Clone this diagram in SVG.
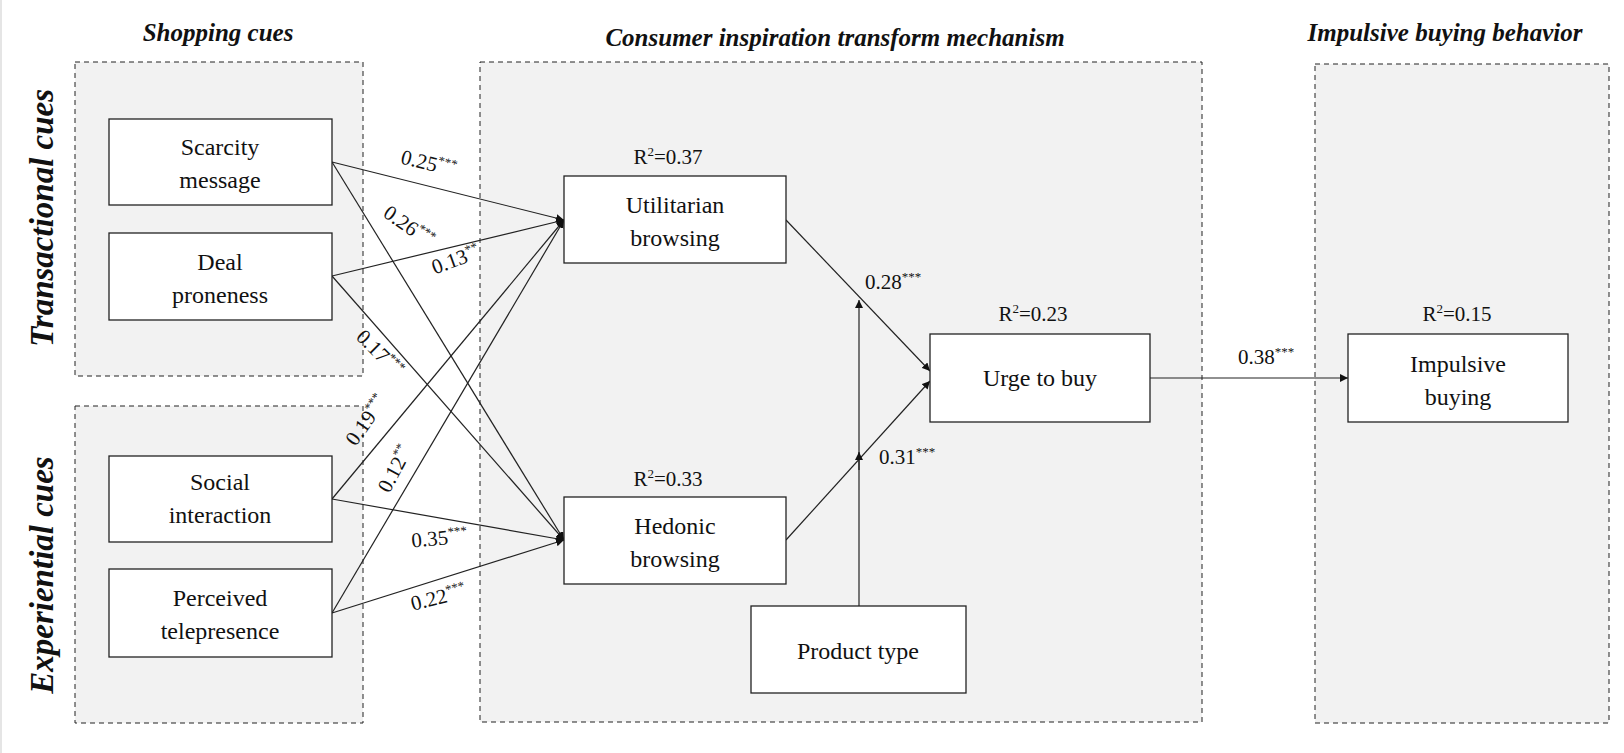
<svg xmlns="http://www.w3.org/2000/svg" width="1624" height="753" viewBox="0 0 1624 753" font-family="'Liberation Serif','Times New Roman','DejaVu Serif',serif">
<style>
.grp{fill:#f2f2f2;stroke:#222;stroke-width:1;stroke-dasharray:5,4}
.nd{fill:#fff;stroke:#222;stroke-width:1.3}
text{font-family:'Liberation Serif','Times New Roman','DejaVu Serif',serif;fill:#111}
.t{font-size:24px;text-anchor:middle}
.h{font-size:25px;font-weight:bold;font-style:italic;text-anchor:middle}
.v{font-size:33px;font-weight:bold;font-style:italic;text-anchor:middle}
.c{font-size:21px;text-anchor:middle}
.e line{stroke:#222;stroke-width:1.2;marker-end:url(#a)}
</style>
<defs><marker id="a" viewBox="0 0 10 10" refX="10" refY="5" markerWidth="8" markerHeight="8" markerUnits="userSpaceOnUse" orient="auto"><path d="M0,0L10,5L0,10z" fill="#111"/></marker></defs>
<rect width="1624" height="753" fill="#fff"/>
<rect x="0.5" y="0" width="1" height="753" fill="#ccc"/>
<rect class="grp" x="75" y="62" width="288" height="314"/>
<rect class="grp" x="75" y="406" width="288" height="317"/>
<rect class="grp" x="480" y="62" width="722" height="660"/>
<rect class="grp" x="1315" y="64" width="294" height="659"/>
<text class="h" x="218" y="41">Shopping cues</text>
<text class="h" x="835" y="46">Consumer inspiration transform mechanism</text>
<text class="h" x="1445" y="41">Impulsive buying behavior</text>
<text class="v" transform="translate(53,218) rotate(-90)">Transactional cues</text>
<text class="v" transform="translate(53,575) rotate(-90)">Experiential cues</text>
<g class="e" id="connectors">
<line x1="332" y1="162" x2="564" y2="220"/>
<line x1="332" y1="276" x2="564" y2="220"/>
<line x1="332" y1="499" x2="564" y2="220"/>
<line x1="332" y1="613" x2="564" y2="220"/>
<line x1="332" y1="162" x2="564" y2="540"/>
<line x1="332" y1="276" x2="564" y2="540"/>
<line x1="332" y1="499" x2="564" y2="540"/>
<line x1="332" y1="613" x2="564" y2="540"/>
<line x1="786" y1="220" x2="930" y2="371"/>
<line x1="786" y1="540" x2="930" y2="381"/>
<line x1="859" y1="606" x2="859" y2="300"/>
<line x1="859" y1="470" x2="859" y2="452"/>
<line x1="1150" y1="378" x2="1348" y2="378"/>
</g>
<g id="n1"><rect class="nd" x="109" y="119" width="223" height="86"/><text class="t" x="220" y="155">Scarcity</text><text class="t" x="220" y="188">message</text></g>
<g id="n2"><rect class="nd" x="109" y="233" width="223" height="87"/><text class="t" x="220" y="270">Deal</text><text class="t" x="220" y="303">proneness</text></g>
<g id="n3"><rect class="nd" x="109" y="456" width="223" height="86"/><text class="t" x="220" y="490">Social</text><text class="t" x="220" y="523">interaction</text></g>
<g id="n4"><rect class="nd" x="109" y="569" width="223" height="88"/><text class="t" x="220" y="606">Perceived</text><text class="t" x="220" y="639">telepresence</text></g>
<g id="n5"><rect class="nd" x="564" y="176" width="222" height="87"/><text class="t" x="675" y="213">Utilitarian</text><text class="t" x="675" y="246">browsing</text></g>
<g id="n6"><rect class="nd" x="564" y="497" width="222" height="87"/><text class="t" x="675" y="534">Hedonic</text><text class="t" x="675" y="567">browsing</text></g>
<g id="n7"><rect class="nd" x="930" y="334" width="220" height="88"/><text class="t" x="1040" y="386">Urge to buy</text></g>
<g id="n8"><rect class="nd" x="1348" y="334" width="220" height="88"/><text class="t" x="1458" y="372">Impulsive</text><text class="t" x="1458" y="405">buying</text></g>
<g id="n9"><rect class="nd" x="751" y="606" width="215" height="87"/><text class="t" x="858" y="659">Product type</text></g>
<text class="c" x="668" y="164">R<tspan font-size="13" dy="-8">2</tspan><tspan dy="8">=0.37</tspan></text>
<text class="c" x="668" y="486">R<tspan font-size="13" dy="-8">2</tspan><tspan dy="8">=0.33</tspan></text>
<text class="c" x="1033" y="321">R<tspan font-size="13" dy="-8">2</tspan><tspan dy="8">=0.23</tspan></text>
<text class="c" x="1457" y="321">R<tspan font-size="13" dy="-8">2</tspan><tspan dy="8">=0.15</tspan></text>
<text class="c" x="893" y="289">0.28<tspan font-size="13" dy="-8">***</tspan></text>
<text class="c" x="907" y="464">0.31<tspan font-size="13" dy="-8">***</tspan></text>
<text class="c" x="1266" y="364">0.38<tspan font-size="13" dy="-8">***</tspan></text>
<text class="c" transform="translate(427,170) rotate(14)">0.25<tspan font-size="13" dy="-8">***</tspan></text>
<text class="c" transform="translate(405,232) rotate(35)">0.26<tspan font-size="13" dy="-8">***</tspan></text>
<text class="c" transform="translate(458,266) rotate(-20)">0.13<tspan font-size="13" dy="-8">**</tspan></text>
<text class="c" transform="translate(375,358) rotate(45)">0.17<tspan font-size="13" dy="-8">***</tspan></text>
<text class="c" transform="translate(372,424) rotate(-55)">0.19<tspan font-size="13" dy="-8">***</tspan></text>
<text class="c" transform="translate(401,472) rotate(-62)">0.12<tspan font-size="13" dy="-8">**</tspan></text>
<text class="c" transform="translate(440,545) rotate(-5)">0.35<tspan font-size="13" dy="-8">***</tspan></text>
<text class="c" transform="translate(440,604) rotate(-14)">0.22<tspan font-size="13" dy="-8">***</tspan></text>
</svg>
